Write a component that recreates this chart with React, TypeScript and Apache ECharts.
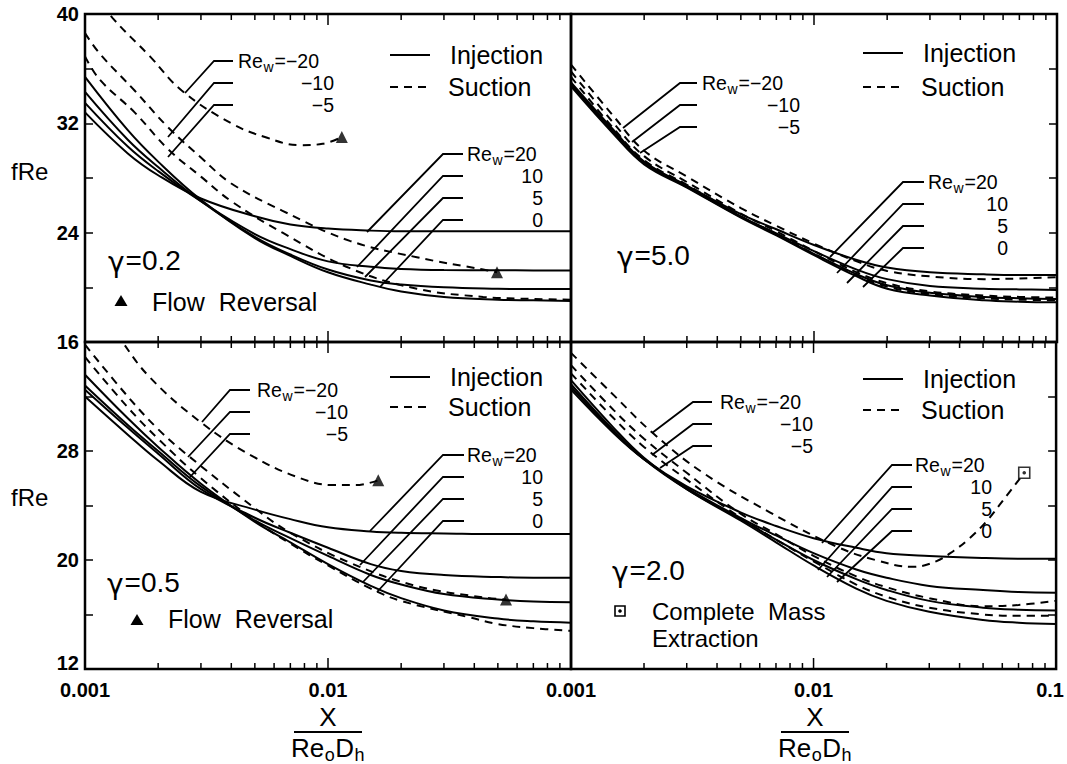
import React, { useEffect, useRef } from 'react';
import * as echarts from 'echarts';

// x positions (X / Re0 Dh) shared by the injection curves
const XS = [0.001, 0.0015, 0.002, 0.003, 0.005, 0.007, 0.01, 0.015, 0.02, 0.03, 0.05, 0.07, 0.1];

// ---- gamma = 0.2 (top left) ----
const G02_INJ_0 = [35.4, 31.5, 29.2, 26.4, 23.6, 22.3, 21.1, 20.2, 19.7, 19.3, 19.1, 19.05, 19.0];
const G02_INJ_5 = [34.3, 30.8, 28.8, 26.3, 23.7, 22.4, 21.3, 20.5, 20.2, 20.0, 19.9, 19.87, 19.87];
const G02_INJ_10 = [33.5, 30.3, 28.5, 26.3, 23.9, 22.8, 21.9, 21.5, 21.35, 21.27, 21.25, 21.24, 21.24];
const G02_INJ_20 = [32.8, 29.8, 28.2, 26.5, 25.2, 24.6, 24.3, 24.15, 24.1, 24.1, 24.1, 24.1, 24.1];
const G02_SUC_5 = [[0.001, 36.9], [0.00115, 35.2], [0.0016, 32.8], [0.0022, 30.1], [0.003, 28.1], [0.004, 26.3], [0.0065, 24.0], [0.0123, 21.4], [0.0232, 19.9], [0.0435, 19.3], [0.07, 19.15], [0.1, 19.1]];
const G02_SUC_10 = [[0.001, 38.6], [0.00115, 37.1], [0.0016, 34.4], [0.0022, 31.7], [0.003, 29.5], [0.004, 27.6], [0.0065, 25.6], [0.0123, 23.4], [0.0232, 22.2], [0.0435, 21.3], [0.0496, 21.1]];
const G02_SUC_20 = [[0.001, 42.3], [0.0013, 39.7], [0.00185, 36.9], [0.0025, 34.4], [0.004, 32.0], [0.0055, 31.0], [0.0077, 30.4], [0.0095, 30.5], [0.0114, 31.0]];
const G02_REVERSAL = [[0.0114, 31.0], [0.0496, 21.1]];

// ---- gamma = 5.0 (top right) ----
const G50_INJ_0 = [34.7, 31.2, 29.0, 27.3, 25.1, 23.8, 22.35, 20.8, 19.9, 19.4, 19.05, 18.95, 18.9];
const G50_INJ_5 = [34.8, 31.3, 29.1, 27.35, 25.15, 23.85, 22.45, 20.95, 20.15, 19.6, 19.3, 19.2, 19.15];
const G50_INJ_10 = [34.9, 31.4, 29.15, 27.4, 25.2, 23.95, 22.65, 21.3, 20.6, 20.1, 19.9, 19.85, 19.8];
const G50_INJ_20 = [35.0, 31.5, 29.2, 27.45, 25.35, 24.25, 23.1, 22.0, 21.45, 21.1, 20.95, 20.9, 20.9];
const G50_SUC_5 = [[0.001, 35.4], [0.0015, 31.6], [0.002, 29.3], [0.003, 27.5], [0.005, 25.2], [0.007, 23.9], [0.01, 22.45], [0.015, 20.9], [0.02, 20.05], [0.03, 19.5], [0.05, 19.2], [0.07, 19.1], [0.1, 19.05]];
const G50_SUC_10 = [[0.001, 35.8], [0.0015, 32.0], [0.002, 29.6], [0.003, 27.7], [0.005, 25.4], [0.007, 24.1], [0.01, 22.65], [0.015, 21.1], [0.02, 20.3], [0.03, 19.7], [0.05, 19.4], [0.07, 19.3], [0.1, 19.25]];
const G50_SUC_20 = [[0.001, 36.3], [0.0015, 32.5], [0.002, 30.0], [0.003, 28.1], [0.005, 25.8], [0.007, 24.5], [0.01, 23.2], [0.015, 21.9], [0.02, 21.2], [0.03, 20.8], [0.05, 20.6], [0.07, 20.65], [0.1, 20.75]];

// ---- gamma = 0.5 (bottom left) ----
const G05_INJ_0 = [33.6, 30.4, 28.3, 25.6, 22.8, 21.3, 19.7, 18.1, 17.2, 16.3, 15.7, 15.5, 15.4];
const G05_INJ_5 = [32.8, 29.9, 28.0, 25.4, 22.9, 21.6, 20.3, 18.9, 18.2, 17.5, 17.1, 16.95, 16.9];
const G05_INJ_10 = [32.5, 29.7, 27.8, 25.2, 23.1, 22.0, 20.9, 19.7, 19.2, 18.9, 18.75, 18.7, 18.7];
const G05_INJ_20 = [32.0, 29.2, 27.3, 25.0, 23.7, 23.0, 22.4, 22.1, 22.0, 21.95, 21.9, 21.9, 21.9];
const G05_SUC_5 = [[0.001, 34.9], [0.0015, 31.2], [0.002, 28.9], [0.003, 26.0], [0.005, 22.9], [0.007, 21.2], [0.01, 19.6], [0.015, 17.9], [0.02, 17.0], [0.038, 15.8], [0.05, 15.3], [0.07, 15.0], [0.1, 14.8]];
const G05_SUC_10 = [[0.001, 35.8], [0.0015, 32.0], [0.002, 29.6], [0.0026, 27.8], [0.005, 23.8], [0.007, 22.0], [0.0123, 19.8], [0.023, 18.1], [0.0435, 17.25], [0.054, 17.1]];
const G05_SUC_20 = [[0.001, 40.0], [0.0014, 36.2], [0.00185, 33.4], [0.003, 30.1], [0.0048, 27.7], [0.0077, 26.0], [0.0105, 25.5], [0.013, 25.5], [0.0161, 25.85]];
const G05_REVERSAL = [[0.0161, 25.85], [0.054, 17.1]];

// ---- gamma = 2.0 (bottom right) ----
const G20_INJ_0 = [33.2, 29.7, 27.5, 25.2, 22.9, 21.3, 19.6, 17.9, 17.0, 16.2, 15.6, 15.4, 15.3];
const G20_INJ_5 = [32.9, 29.5, 27.4, 25.2, 23.0, 21.5, 20.0, 18.6, 17.8, 17.0, 16.5, 16.35, 16.3];
const G20_INJ_10 = [32.7, 29.4, 27.4, 25.3, 23.1, 21.8, 20.5, 19.3, 18.7, 18.1, 17.8, 17.65, 17.6];
const G20_INJ_20 = [32.5, 29.3, 27.4, 25.4, 23.5, 22.5, 21.6, 20.9, 20.5, 20.3, 20.15, 20.1, 20.1];
const G20_SUC_5 = [[0.001, 33.7], [0.0015, 30.4], [0.002, 28.3], [0.003, 25.9], [0.005, 23.1], [0.007, 21.5], [0.01, 19.9], [0.015, 18.2], [0.02, 17.3], [0.03, 16.5], [0.05, 16.0], [0.07, 15.9], [0.1, 15.9]];
const G20_SUC_10 = [[0.001, 34.3], [0.0015, 31.0], [0.002, 28.9], [0.003, 26.4], [0.005, 23.4], [0.007, 21.9], [0.01, 20.3], [0.015, 18.8], [0.02, 18.0], [0.03, 17.2], [0.05, 16.6], [0.07, 16.7], [0.1, 17.0]];
const G20_SUC_20 = [[0.001, 35.2], [0.0015, 32.1], [0.00218, 29.3], [0.0035, 26.4], [0.0066, 23.5], [0.0124, 21.0], [0.018, 20.0], [0.0256, 19.5], [0.032, 19.9], [0.038, 20.7], [0.044, 21.6], [0.052, 22.9], [0.06, 24.3], [0.0739, 26.4]];
const G20_EXTRACTION = [[0.0739, 26.4]];

// axis ticks
const X_MINOR_TICKS = [0.002, 0.003, 0.004, 0.005, 0.006, 0.007, 0.008, 0.009, 0.02, 0.03, 0.04, 0.05, 0.06, 0.07, 0.08, 0.09];
const X_MAJOR_TICKS = [0.01];
const Y_TOP_RANGE = [16, 40];
const Y_BOTTOM_RANGE = [12, 36];

const FONT = "'Liberation Sans', Arial, Helvetica, sans-serif";
const GREEK_FONT = "'DejaVu Sans', 'Liberation Sans', sans-serif";

const PANELS = [
  { inj: [G02_INJ_0, G02_INJ_5, G02_INJ_10, G02_INJ_20], suc: [G02_SUC_5, G02_SUC_10, G02_SUC_20], tri: G02_REVERSAL, sq: null as any },
  { inj: [G50_INJ_0, G50_INJ_5, G50_INJ_10, G50_INJ_20], suc: [G50_SUC_5, G50_SUC_10, G50_SUC_20], tri: null as any, sq: null as any },
  { inj: [G05_INJ_0, G05_INJ_5, G05_INJ_10, G05_INJ_20], suc: [G05_SUC_5, G05_SUC_10, G05_SUC_20], tri: G05_REVERSAL, sq: null as any },
  { inj: [G20_INJ_0, G20_INJ_5, G20_INJ_10, G20_INJ_20], suc: [G20_SUC_5, G20_SUC_10, G20_SUC_20], tri: null as any, sq: G20_EXTRACTION },
];

let _ctx: CanvasRenderingContext2D | null = null;
function textWidth(text: string, size: number, family = FONT) {
  if (!_ctx) _ctx = document.createElement('canvas').getContext('2d');
  if (!_ctx) return text.length * size * 0.55;
  _ctx.font = `${size}px ${family}`;
  return _ctx.measureText(text).width;
}

function T(x: number, y: number, text: string, size: number, align = 'left', lineHeight?: number, family = FONT) {
  const style: any = {
    text, fontSize: size, fontFamily: family, fontWeight: 'normal', fill: '#000',
    align, verticalAlign: 'middle', textAlign: align, textVerticalAlign: 'middle',
  };
  if (lineHeight) style.lineHeight = lineHeight;
  return { type: 'text', x, y, silent: true, z: 100, style };
}
function PL(points: number[][], dashed = false, width = 1.8) {
  return { type: 'polyline', silent: true, z: 100, shape: { points }, style: { stroke: '#000', lineWidth: width, fill: null, lineDash: dashed ? [8, 6] : null } };
}
function TRI(x: number, y: number) {
  return { type: 'polygon', silent: true, z: 100, shape: { points: [[x, y - 6], [x - 6.5, y + 5], [x + 6.5, y + 5]] }, style: { fill: '#000' } };
}
const LBL = 19.5;
// "Re_w=value" built from separate pieces so the subscript sits low
function ReLabel(g: any[], x: number, y: number, value: string) {
  const w1 = textWidth('Re', LBL);
  const ws = textWidth('w', 14);
  g.push(T(x, y, 'Re', LBL, 'left', 19));
  g.push(T(x + w1 + 0.5, y + 6, 'w', 14, 'left', 12));
  g.push(T(x + w1 + ws + 1.5, y, '=' + value, LBL, 'left', 19));
}
function Gamma(g: any[], x: number, y: number, value: string) {
  const size = 28;
  const wg = textWidth('γ', size, GREEK_FONT);
  g.push(T(x, y + 2, 'γ', size, 'left', 24, GREEK_FONT));
  g.push(T(x + wg + 1, y, '=' + value, size, 'left', 24));
}
function Fraction(g: any[], cx: number) {
  g.push(T(cx, 717, 'X', 26, 'center', 24));
  g.push(PL([[cx - 34, 732], [cx + 34, 732]], false, 2));
  const big = 26, small = 18;
  const parts: [string, number, number][] = [['Re', big, 0], ['o', small, 7], ['D', big, 0], ['h', small, 7]];
  const total = parts.reduce((s, p) => s + textWidth(p[0], p[1]) + 0.5, 0);
  let x = cx - total / 2;
  for (const [t, s, dy] of parts) {
    g.push(T(x, 748 + dy, t, s, 'left', s === big ? 24 : 14));
    x += textWidth(t, s) + 0.5;
  }
}
// label group: leader runs from the label (hx[0]) left to a corner (hx[1]), then down to the curve
function Group(g: any[], textX: number, rightX: number, ys: number[], hx: [number, number], ends: number[][], values: string[]) {
  ys.forEach((y, k) => {
    g.push(PL([[hx[0], y], [hx[1], y], ends[k]]));
    if (k === 0) ReLabel(g, textX, y, values[0]);
    else g.push(T(rightX, y, values[k], LBL, 'right', 19));
  });
}

function buildGraphic() {
  const g: any[] = [];
  // fRe labels
  g.push(T(11, 171, 'fRe', 24));
  g.push(T(11, 497, 'fRe', 24));
  Fraction(g, 328);
  Fraction(g, 815);
  // legends
  const legends = [[390, 55, 87], [863, 53, 87], [390, 377, 407], [863, 379, 410]];
  for (const [lx, y1, y2] of legends) {
    g.push(PL([[lx, y1], [lx + 40, y1]]));
    g.push(T(lx + 60, y1, 'Injection', 25));
    g.push(PL([[lx, y2], [lx + 40, y2]], true));
    g.push(T(lx + 58, y2, 'Suction', 25));
  }
  // gamma labels
  Gamma(g, 108, 260, '0.2');
  Gamma(g, 617, 255, '5.0');
  Gamma(g, 107, 582, '0.5');
  Gamma(g, 612, 570, '2.0');
  // flow reversal notes
  g.push(TRI(121, 301));
  g.push(T(152, 302, 'Flow  Reversal', 25));
  g.push(TRI(137, 620));
  g.push(T(168, 619, 'Flow  Reversal', 25));
  // complete mass extraction note
  g.push({ type: 'rect', silent: true, z: 100, shape: { x: 615, y: 606, width: 10, height: 10 }, style: { fill: '#fff', stroke: '#000', lineWidth: 1.6 } });
  g.push({ type: 'circle', silent: true, z: 101, shape: { cx: 620, cy: 611, r: 1.8 }, style: { fill: '#000' } });
  g.push(T(652, 611, 'Complete  Mass', 24, 'left', 22));
  g.push(T(652, 638, 'Extraction', 24, 'left', 22));

  const SUC = ['−20', '−10', '−5'];
  const INJ = ['20', '10', '5', '0'];
  // top-left
  Group(g, 238, 334, [61, 83, 105], [233, 214], [[185, 93], [168, 137], [168, 157]], SUC);
  Group(g, 467, 543, [154, 176, 198, 220], [463, 443], [[367, 232], [357, 267], [365, 277], [380, 287]], INJ);
  // top-right
  Group(g, 702, 800, [83, 105, 127], [697, 680], [[623, 128], [632, 142], [640, 153]], SUC);
  Group(g, 928, 1008, [182, 204, 226, 248], [924, 903], [[830, 257], [837, 273], [847, 283], [863, 287]], INJ);
  // bottom-left
  Group(g, 257, 348, [390, 412, 434], [250, 230], [[202, 422], [188, 457], [190, 477]], SUC);
  Group(g, 467, 543, [455, 477, 499, 521], [464, 443], [[370, 531], [360, 565], [363, 582], [377, 592]], INJ);
  // bottom-right
  Group(g, 720, 813, [402, 424, 446], [712, 693], [[652, 433], [652, 455], [660, 468]], SUC);
  Group(g, 915, 992, [465, 487, 509, 531], [912, 892], [[822, 543], [818, 570], [827, 577], [837, 582]], INJ);
  return g;
}

function buildOption() {
  const grids = [
    { left: 85, top: 14, width: 486, height: 328 },
    { left: 571, top: 14, width: 486, height: 328 },
    { left: 85, top: 342, width: 486, height: 327 },
    { left: 571, top: 342, width: 486, height: 327 },
  ].map((r) => ({ ...r, show: true, borderColor: '#000', borderWidth: 2.5, backgroundColor: 'transparent', containLabel: false }));

  const labelFor = (i: number) => (v: number) => {
    const e = Math.round(Math.log10(v));
    if (i === 2 && e === -1) return '';
    if (e === -3) return '0.001';
    if (e === -2) return '0.01';
    return '{r|0.1}';
  };

  const xAxis = [0, 1, 2, 3].map((i) => ({
    type: 'log', logBase: 10, gridIndex: i, min: 0.001, max: 0.1,
    axisLine: { show: false }, axisTick: { show: false }, splitLine: { show: false }, minorTick: { show: false },
    axisLabel: i >= 2
      ? { show: true, formatter: labelFor(i), fontSize: 20, fontWeight: 'bold', color: '#000', fontFamily: FONT, margin: 11,
          rich: { r: { fontSize: 20, fontWeight: 'bold', color: '#000', fontFamily: FONT, padding: [0, 12, 0, 0] } } }
      : { show: false },
  }));

  const yRich = { b: { fontSize: 20, fontWeight: 'bold', color: '#000', fontFamily: FONT, padding: [0, 0, 12, 0] } };
  const yAxis = [0, 1, 2, 3].map((i) => {
    const top = i < 2;
    const range = top ? Y_TOP_RANGE : Y_BOTTOM_RANGE;
    return {
      type: 'value', gridIndex: i, min: range[0], max: range[1], interval: 4,
      position: i % 2 === 0 ? 'left' : 'right',
      axisLine: { show: false }, splitLine: { show: false },
      axisTick: { show: true, inside: true, length: 8, lineStyle: { color: '#000', width: 1.5 } },
      axisLabel: i % 2 === 0
        ? {
            show: true, fontSize: 20, fontWeight: 'bold', color: '#000', fontFamily: FONT, margin: 6, rich: yRich,
            formatter: (v: number) => {
              if (top) return (v - 16) % 8 === 0 ? String(v) : '';
              if (v === 12) return '{b|12}';
              return v < 36 && (v - 12) % 8 === 0 ? String(v) : '';
            },
          }
        : { show: false },
    };
  });

  const series: any[] = [];
  PANELS.forEach((p, i) => {
    p.inj.forEach((arr: number[]) => {
      series.push({
        type: 'line', xAxisIndex: i, yAxisIndex: i, data: XS.map((x, k) => [x, arr[k]]),
        symbol: 'none', showSymbol: false, smooth: 0.4, silent: true, z: 2,
        lineStyle: { color: '#000', width: 2, type: 'solid' },
      });
    });
    p.suc.forEach((arr: number[][]) => {
      series.push({
        type: 'line', xAxisIndex: i, yAxisIndex: i, data: arr,
        symbol: 'none', showSymbol: false, smooth: 0.4, silent: true, z: 2,
        lineStyle: { color: '#000', width: 2, type: [8, 6] },
      });
    });
    if (p.tri) {
      series.push({ type: 'scatter', xAxisIndex: i, yAxisIndex: i, data: p.tri, symbol: 'triangle', symbolSize: 12, silent: true, z: 4, itemStyle: { color: '#000' } });
    }
    if (p.sq) {
      series.push({ type: 'scatter', xAxisIndex: i, yAxisIndex: i, data: p.sq, symbol: 'rect', symbolSize: 11, silent: true, z: 4, itemStyle: { color: '#fff', borderColor: '#000', borderWidth: 1.6 } });
      series.push({ type: 'scatter', xAxisIndex: i, yAxisIndex: i, data: p.sq, symbol: 'circle', symbolSize: 3.6, silent: true, z: 5, itemStyle: { color: '#000' } });
    }
    const ymin = i < 2 ? Y_TOP_RANGE[0] : Y_BOTTOM_RANGE[0];
    const tickData = [
      ...X_MINOR_TICKS.map((v) => [v, ymin, 6]),
      ...X_MAJOR_TICKS.map((v) => [v, ymin, 11]),
    ];
    series.push({
      type: 'custom', xAxisIndex: i, yAxisIndex: i, data: tickData, silent: true, z: 6,
      renderItem: (params: any, api: any) => {
        const pt = api.coord([api.value(0), api.value(1)]);
        const cs = params.coordSys;
        const len = api.value(2);
        const x = pt[0];
        return {
          type: 'group',
          children: [
            { type: 'line', shape: { x1: x, y1: cs.y, x2: x, y2: cs.y + len }, style: { stroke: '#000', lineWidth: 1.5 } },
            { type: 'line', shape: { x1: x, y1: cs.y + cs.height, x2: x, y2: cs.y + cs.height - len }, style: { stroke: '#000', lineWidth: 1.5 } },
          ],
        };
      },
    });
  });

  return {
    animation: false,
    backgroundColor: '#fff',
    grid: grids,
    xAxis,
    yAxis,
    series,
    graphic: { elements: buildGraphic() },
  };
}

export default function App() {
  const ref = useRef<HTMLDivElement>(null);
  useEffect(() => {
    document.body.style.margin = '0';
    if (!ref.current) return;
    const chart = echarts.init(ref.current, undefined, { renderer: 'svg' });
    chart.setOption(buildOption() as any);
    return () => chart.dispose();
  }, []);
  return <div ref={ref} style={{ width: 1067, height: 764 }} />;
}
